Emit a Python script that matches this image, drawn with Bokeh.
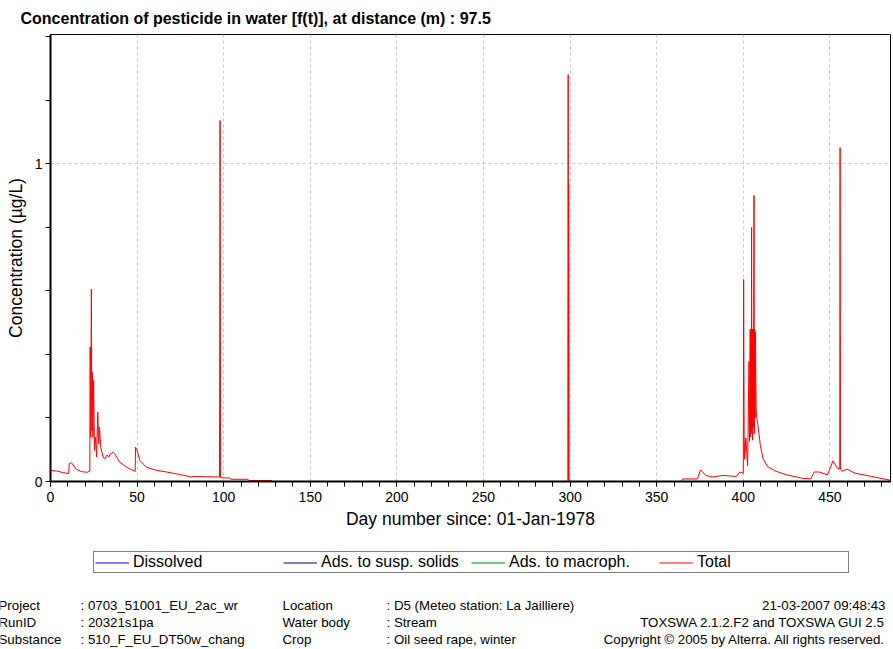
from bokeh.plotting import figure
from bokeh.layouts import column, row
from bokeh.models import (Range1d, FixedTicker, Legend, LegendItem, Label)
from bokeh.embed import file_html
from bokeh.resources import INLINE

# ---------------- data ----------------
total_day = [0, 3.5, 7.3, 10.5, 10.8, 12.1, 15, 18, 21.2, 22.7,
             22.9, 23.2, 23.6, 23.9, 24.2, 24.5, 24.9, 25.4, 26.0, 26.6,
             27.3, 27.8, 28.3, 29.0, 30.4, 31.3, 32.6, 33.7, 34.6, 36.2,
             37.1, 40.0, 43.9, 47.7, 48.9, 49.1, 49.7, 51.6, 55.4, 61.2,
             67.0, 74.7, 81.4, 82.4, 97.6, 97.9, 98.2, 103.5, 104.0, 114.0,
             114.6, 127.6, 128.0, 298.7, 298.9, 299.1, 299.2, 299.4, 364.0, 365.0,
             373.5, 375.3, 378.4, 382.0, 388.0, 396.0, 398.0, 400.0, 400.2, 400.5,
             400.8, 401.5, 402.5, 403.3, 403.6, 404.0, 404.2, 404.4, 404.6, 404.8,
             405.0, 405.2, 405.4, 405.6, 405.8, 406.0, 406.2, 406.4, 406.6, 406.8,
             407.0, 407.3, 407.5, 407.8, 408.4, 409.8, 411.3, 414.0, 419.0, 425.0,
             434.3, 439.0, 441.0, 443.8, 448.6, 451.8, 454.3, 455.7, 455.9, 456.1,
             457.0, 460.0, 464.6, 474.0, 484.0, 485.0]
total_val = [0.035, 0.033, 0.028, 0.025, 0.056, 0.059, 0.038, 0.031, 0.029, 0.033,
             0.423, 0.139, 0.606, 0.160, 0.344, 0.139, 0.318, 0.098, 0.139, 0.077,
             0.218, 0.119, 0.171, 0.108, 0.077, 0.071, 0.083, 0.077, 0.087, 0.092,
             0.087, 0.061, 0.045, 0.035, 0.032, 0.108, 0.103, 0.066, 0.045, 0.035,
             0.030, 0.022, 0.014, 0.016, 0.014, 1.136, 0.012, 0.011, 0.007, 0.007,
             0.003, 0.003, 0.0, 0.0, 1.281, 0.0, 0.939, 0.0, 0.0, 0.008,
             0.008, 0.037, 0.019, 0.014, 0.019, 0.016, 0.030, 0.026, 0.636, 0.148,
             0.070, 0.137, 0.050, 0.378, 0.126, 0.480, 0.140, 0.470, 0.150, 0.800,
             0.160, 0.480, 0.130, 0.480, 0.170, 0.470, 0.900, 0.150, 0.480, 0.200,
             0.470, 0.300, 0.220, 0.200, 0.180, 0.116, 0.074, 0.047, 0.032, 0.021,
             0.010, 0.008, 0.030, 0.030, 0.021, 0.065, 0.042, 0.040, 1.051, 0.038,
             0.032, 0.039, 0.026, 0.016, 0.005, 0.004]

# dissolved practically equals total (it is hidden below the red line)
dissolved_day = total_day
dissolved_val = total_val
susp_day = [0, 485]
susp_val = [0.0, 0.0]
macro_day = [0, 485]
macro_val = [0.0, 0.0]

x_major = [0, 50, 100, 150, 200, 250, 300, 350, 400, 450]
x_minor = list(range(0, 490, 10))
y_major = [0, 1]
y_minor = [0.2, 0.4, 0.6, 0.8, 1.2, 1.4]

title_text = "Concentration of pesticide in water [f(t)], at distance (m) : 97.5"
xlabel = "Day number since: 01-Jan-1978"
ylabel = "Concentration (\u00b5g/L)"
series_names = ["Dissolved", "Ads. to susp. solids", "Ads. to macroph.", "Total"]
series_colors = ["#0000ff", "#000080", "#008000", "#ff0000"]

footer_left = [
    ("Project", ": 0703_51001_EU_2ac_wr", "Location", ": D5 (Meteo station: La Jailliere)"),
    ("RunID", ": 20321s1pa", "Water body", ": Stream"),
    ("Substance", ": 510_F_EU_DT50w_chang", "Crop", ": Oil seed rape, winter"),
]
footer_right = ["21-03-2007 09:48:43",
                "TOXSWA 2.1.2.F2 and TOXSWA GUI 2.5",
                "Copyright \u00a9 2005 by Alterra. All rights reserved."]

FONT = "Liberation Sans"
W = 893
H1, H2 = 540, 109           # chart part and legend/footer strip
FL, FT, FR = 50, 34, 3
FRAME_BOTTOM = 481

# ---------------- chart ----------------
p = figure(width=W, height=H1, output_backend="svg", toolbar_location=None,
           x_range=Range1d(0, 485), y_range=Range1d(0, 1.407),
           min_border_left=FL, min_border_top=FT, min_border_right=FR,
           min_border_bottom=H1 - FRAME_BOTTOM, background_fill_color="white",
           border_fill_color="white")

p.title.text = title_text
p.title.text_font = FONT
p.title.text_font_size = "16px"
p.title.text_font_style = "bold"
p.title.text_color = "black"
p.title.align = "left"
p.title.offset = -30
p.title.standoff = 15

p.outline_line_color = "black"
p.outline_line_width = 1

for ax in (p.xaxis[0], p.yaxis[0]):
    ax.axis_line_width = 2
    ax.axis_line_color = "black"
    ax.major_tick_out = 5
    ax.major_tick_in = 0
    ax.minor_tick_out = 5
    ax.minor_tick_in = 0
    ax.major_tick_line_color = "black"
    ax.minor_tick_line_color = "black"
    ax.major_label_text_font = FONT
    ax.major_label_text_font_size = "14px"
    ax.major_label_text_color = "black"
    ax.axis_label_text_font = FONT
    ax.axis_label_text_font_size = "17.5px"
    ax.axis_label_text_font_style = "normal"
    ax.axis_label_text_color = "black"

p.xaxis[0].ticker = FixedTicker(ticks=x_major, minor_ticks=x_minor)
p.yaxis[0].ticker = FixedTicker(ticks=y_major, minor_ticks=y_minor)
p.xaxis[0].axis_label = xlabel
p.yaxis[0].axis_label = ylabel
p.xaxis[0].major_label_standoff = 5
p.xaxis[0].axis_label_standoff = 4
p.yaxis[0].major_label_standoff = 3
p.yaxis[0].axis_label_standoff = 6

for g in (p.xgrid[0], p.ygrid[0]):
    g.grid_line_color = "#c8c8c8"
    g.grid_line_dash = "3 3"
    g.grid_line_width = 1
p.xgrid[0].ticker = FixedTicker(ticks=x_major)
p.ygrid[0].ticker = FixedTicker(ticks=y_major)

p.line(susp_day, susp_val, line_color=series_colors[1], line_width=1)
p.line(macro_day, macro_val, line_color=series_colors[2], line_width=1)
p.line(total_day, total_val, line_color=series_colors[3], line_width=1)

# ---------------- legend + footer strip ----------------
# coordinates of this strip are page pixels: x = page x, y = -(page y)
q = figure(width=W, height=H2, output_backend="svg", toolbar_location=None,
           x_range=Range1d(0, W), y_range=Range1d(-(H1 + H2), -H1),
           x_axis_location=None, y_axis_location=None,
           min_border_left=0, min_border_right=0, min_border_top=0, min_border_bottom=0,
           background_fill_color="white", border_fill_color="white")
q.outline_line_color = None
q.grid.visible = False

series = [(dissolved_day, dissolved_val), (susp_day, susp_val),
          (macro_day, macro_val), (total_day, total_val)]
leg_renderers = []
for (xs, ys), col in zip(series, series_colors):
    r = q.line(xs, ys, line_color=col, line_width=1)
    r.visible = False
    leg_renderers.append(r)

LEG_H = 21
LEG_TOP = 552
legend = Legend(items=[LegendItem(label=n, renderers=[r]) for n, r in zip(series_names, leg_renderers)],
                orientation="horizontal",
                location=(93, (H1 + H2) - LEG_TOP - LEG_H),
                label_text_font=FONT, label_text_font_size="16px",
                label_text_color="black",
                glyph_width=34, glyph_height=15, label_standoff=4,
                label_width=150, label_height=15, spacing=0, padding=1,
                margin=0, border_line_color="black", border_line_width=1,
                background_fill_color="white", background_fill_alpha=1,
                inactive_fill_alpha=0)
q.add_layout(legend, "center")

def add_text(txt, cx, cy, align="left"):
    q.add_layout(Label(x=cx, y=-cy, x_units="data", y_units="data",
                       text=txt, text_font=FONT, text_font_size="13.3px",
                       text_color="black", text_align=align, text_baseline="middle"))

rows_y = [605, 622, 639]
cols_x = [-2, 80, 282, 386]
for row_, yy in zip(footer_left, rows_y):
    for txt, xx in zip(row_, cols_x):
        add_text(txt, xx, yy)
for txt, yy in zip(footer_right, rows_y):
    add_text(txt, 885, yy, align="right")

layout = column(p, row(q, spacing=0), spacing=0)
open("out.html", "w").write(file_html(layout, INLINE))
